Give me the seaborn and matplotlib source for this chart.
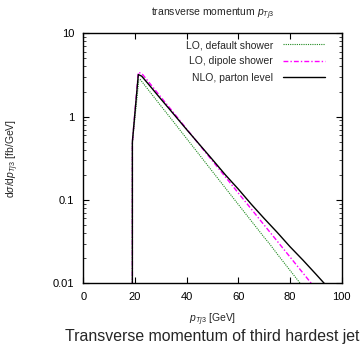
import numpy as np
import pandas as pd
import matplotlib
matplotlib.use("Agg")
import matplotlib.pyplot as plt
from matplotlib.ticker import LogLocator, NullFormatter
import seaborn as sns

# Differential cross section of the third hardest jet, dsigma/dpT [fb/GeV]
pt_nlo = [19.0, 19.0, 21.3, 22.6, 25, 30, 35, 40, 45, 50, 55, 60, 65, 70, 75, 80, 85, 90, 95]
xs_nlo = [1e-3, 0.50, 3.20, 3.06, 2.50, 1.63, 1.07, 0.70, 0.462, 0.305, 0.200, 0.135,
          0.089, 0.060, 0.041, 0.0275, 0.019, 0.0129, 0.0087]

pt_dipole = [19.0, 19.0, 21.3, 22.6, 25, 30, 35, 40, 45, 50, 55, 60, 65, 70, 75, 80, 85, 90]
xs_dipole = [1e-3, 0.50, 3.40, 3.30, 2.68, 1.72, 1.11, 0.711, 0.457, 0.294, 0.189, 0.121,
             0.078, 0.050, 0.0322, 0.0207, 0.0133, 0.00855]

pt_default = [19.0, 19.0, 21.5, 22.0, 25, 30, 35, 40, 45, 50, 55, 60, 65, 70, 72, 75, 80, 85]
xs_default = [1e-3, 0.48, 2.80, 2.80, 2.13, 1.35, 0.86, 0.545, 0.346, 0.219, 0.139, 0.0883,
              0.0561, 0.0356, 0.0300, 0.0226, 0.0143, 0.0091]

labels = ["LO, default shower", "LO, dipole shower", "NLO, parton level"]
x_ticks = [0, 20, 40, 60, 80, 100]
y_ticks = [0.01, 0.1, 1, 10]
y_ticklabels = ["0.01", "0.1", "1", "10"]

frames = []
for lab, px, py in zip(labels, [pt_default, pt_dipole, pt_nlo],
                       [xs_default, xs_dipole, xs_nlo]):
    frames.append(pd.DataFrame({"pt": px, "xs": py, "sample": lab}))
df = pd.concat(frames, ignore_index=True)

sns.set_style("ticks")
plt.rcParams["font.family"] = ["Liberation Sans", "DejaVu Sans"]
plt.rcParams["mathtext.fontset"] = "custom"
plt.rcParams["mathtext.rm"] = "Liberation Sans"
plt.rcParams["mathtext.it"] = "Liberation Sans:italic"
plt.rcParams["mathtext.default"] = "it"

fig = plt.figure(figsize=(3.61, 3.48), dpi=100)
ax = fig.add_axes([0.2307, 0.1859, 0.9465 - 0.2307, 0.9043 - 0.1859])

styles = {
    "LO, default shower": dict(color="#1f8a1f", linestyle=(0, (1, 1)), linewidth=0.8),
    "LO, dipole shower": dict(color="#ff00ff", linestyle=(0, (3.5, 1.5, 1, 1.5)), linewidth=1.0),
    "NLO, parton level": dict(color="black", linestyle="-", linewidth=1.0),
}
for lab in labels:
    sub = df[df["sample"] == lab]
    sns.lineplot(data=sub, x="pt", y="xs", ax=ax, estimator=None, sort=False,
                 label=lab, **styles[lab])

ax.set_yscale("log")
ax.set_xlim(0, 100)
ax.set_ylim(0.01, 10)
ax.set_xticks(x_ticks)
ax.set_xticklabels([str(t) for t in x_ticks])
ax.set_yticks(y_ticks)
ax.set_yticklabels(y_ticklabels)
ax.yaxis.set_minor_locator(LogLocator(base=10, subs=np.arange(2, 10)))
ax.yaxis.set_minor_formatter(NullFormatter())

for sp in ax.spines.values():
    sp.set_linewidth(1.0)
    sp.set_color("black")
ax.tick_params(axis="both", which="major", direction="in", length=4.5, width=0.8,
               top=True, right=True, labelsize=8, colors="black", pad=6.5)
ax.tick_params(axis="y", which="minor", direction="in", length=2.5, width=0.6,
               left=True, right=True)
ax.tick_params(axis="x", which="minor", bottom=False, top=False)
ax.set_xlabel("")
ax.set_ylabel("")

leg = ax.legend(loc="upper right", bbox_to_anchor=(0.935, 0.973), frameon=False,
                markerfirst=False, fontsize=7.5, handlelength=4.0,
                handletextpad=1.0, labelspacing=0.6, borderpad=0, borderaxespad=0)

cx = (0.2307 + 0.9465) / 2
fig.text(cx, 1 - 13.5 / 348, r"transverse momentum $p_{Tj3}$", ha="center", va="center",
         fontsize=7.5)
fig.text(cx, 1 - 320 / 348, r"$p_{Tj3}$ [GeV]", ha="center", va="center", fontsize=7.5)
fig.text(cx, 1 - 337 / 348, "Transverse momentum of third hardest jet", ha="center",
         va="center", fontsize=11.4)
fig.text(12.5 / 361, (0.1859 + 0.9043) / 2, r"d$\sigma$/d$p_{Tj3}$ [fb/GeV]",
         rotation=90, ha="center", va="center", fontsize=7.5)

fig.savefig("out.png", dpi=100)
